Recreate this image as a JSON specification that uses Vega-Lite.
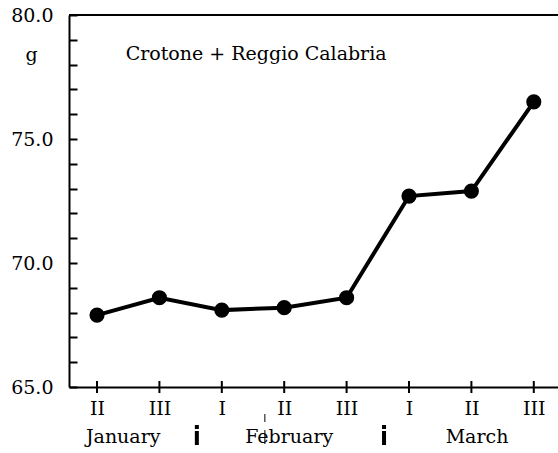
{
  "$schema": "https://vega.github.io/schema/vega-lite/v6.json",
  "width": 489,
  "height": 372,
  "autosize": {"type": "none"},
  "padding": {"left": 69, "top": 15, "right": 0, "bottom": 66},
  "background": "#ffffff",
  "config": {
    "view": {"stroke": null},
    "font": "DejaVu Serif",
    "axis": {"labelFont": "DejaVu Serif", "titleFont": "DejaVu Serif", "labelColor": "#000", "domainColor": "#000", "tickColor": "#000", "grid": false}
  },
  "datasets": {
    "series": [
      {"idx": 0, "dekad": "II", "value": 67.9},
      {"idx": 1, "dekad": "III", "value": 68.6},
      {"idx": 2, "dekad": "I", "value": 68.1},
      {"idx": 3, "dekad": "II", "value": 68.2},
      {"idx": 4, "dekad": "III", "value": 68.6},
      {"idx": 5, "dekad": "I", "value": 72.7},
      {"idx": 6, "dekad": "II", "value": 72.9},
      {"idx": 7, "dekad": "III", "value": 76.5}
    ],
    "months": [
      {"pos": 0.42, "month": "January"},
      {"pos": 3.08, "month": "February"},
      {"pos": 6.09, "month": "March"}
    ],
    "seps": [
      {"pos": 1.6, "y1": 63.47, "y2": 62.66},
      {"pos": 4.6, "y1": 63.47, "y2": 62.66}
    ]
  },
  "layer": [
    {
      "data": {"name": "series"},
      "mark": {"type": "line", "color": "#000", "strokeWidth": 4},
      "encoding": {
        "x": {"field": "idx", "type": "quantitative", "scale": {"domain": [-0.449, 7.388], "nice": false, "zero": false},
          "axis": {"orient": "bottom", "values": [0,1,2,3,4,5,6,7], "tickCount": 20, "labelExpr": "['II','III','I','II','III','I','II','III'][datum.value]", "ticks": false, "domainWidth": 2, "labelFontSize": 19, "labelPadding": 12, "title": null, "labelFlush": false, "labelOverlap": false}},
        "y": {"field": "value", "type": "quantitative", "scale": {"domain": [65, 80], "nice": false, "zero": false},
          "axis": {"values": [65,66,67,68,69,70,71,72,73,74,75,76,77,78,79,80], "tickCount": 30, "labelExpr": "datum.value % 5 == 0 ? format(datum.value, '.1f') : ''", "labelOverlap": false, "tickSize": -8, "tickWidth": 2, "domainWidth": 2, "labelFontSize": 19, "labelPadding": 24, "labelFlush": false,
            "title": "g", "titleAngle": 0, "titleFontSize": 19, "titleFontWeight": "normal", "titleX": -38, "titleY": 39, "titleAlign": "center", "titleBaseline": "middle"}}
      }
    },
    {
      "data": {"name": "series"},
      "mark": {"type": "point", "filled": true, "color": "#000", "size": 230, "opacity": 1},
      "encoding": {"x": {"field": "idx", "type": "quantitative"}, "y": {"field": "value", "type": "quantitative"}}
    },
    {
      "data": {"name": "series"},
      "mark": {"type": "tick", "orient": "vertical", "color": "#000", "size": 12, "thickness": 2, "opacity": 1},
      "encoding": {"x": {"field": "idx", "type": "quantitative"}, "y": {"datum": 65, "type": "quantitative"}}
    },
    {
      "data": {"values": [{"a": 1}]},
      "mark": {"type": "rule", "color": "#000", "strokeWidth": 2},
      "encoding": {"y": {"datum": 80, "type": "quantitative"}}
    },
    {
      "data": {"name": "months"},
      "mark": {"type": "text", "fontSize": 19, "color": "#000", "baseline": "middle", "align": "center"},
      "encoding": {"x": {"field": "pos", "type": "quantitative"}, "y": {"datum": 62.98, "type": "quantitative"}, "text": {"field": "month"}}
    },
    {
      "data": {"name": "seps"},
      "mark": {"type": "rule", "color": "#000", "strokeWidth": 4, "strokeDash": [4, 2, 30]},
      "encoding": {"x": {"field": "pos", "type": "quantitative"}, "y": {"field": "y1", "type": "quantitative"}, "y2": {"field": "y2"}}
    },
    {
      "data": {"values": [{"pos": 2.69, "y1": 63.91, "y2": 62.7}]},
      "mark": {"type": "rule", "color": "#000", "strokeWidth": 1, "strokeDash": [8, 8, 15]},
      "encoding": {"x": {"field": "pos", "type": "quantitative"}, "y": {"field": "y1", "type": "quantitative"}, "y2": {"field": "y2"}}
    },
    {
      "data": {"values": [{"pos": 2.55, "v": 78.43, "label": "Crotone + Reggio Calabria"}]},
      "mark": {"type": "text", "fontSize": 19, "color": "#000", "baseline": "middle", "align": "center"},
      "encoding": {"x": {"field": "pos", "type": "quantitative"}, "y": {"field": "v", "type": "quantitative"}, "text": {"field": "label"}}
    }
  ]
}
